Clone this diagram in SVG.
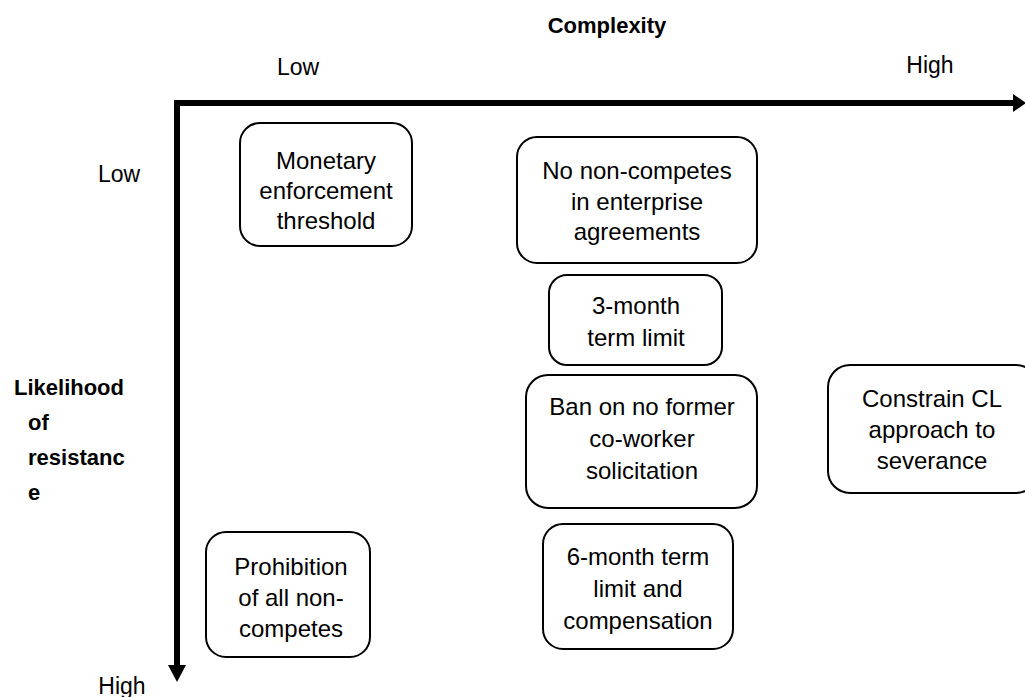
<svg xmlns="http://www.w3.org/2000/svg" width="1025" height="697" viewBox="0 0 1025 697">
<style>
.box{fill:#fff;stroke:#000;stroke-width:2}
.t{font-family:"Liberation Sans",Arial,sans-serif;font-size:24px;fill:#000;text-anchor:middle}
.lab{font-family:"Liberation Sans",Arial,sans-serif;font-size:23px;fill:#000}
.b{font-family:"Liberation Sans",Arial,sans-serif;font-size:22px;font-weight:bold;fill:#000}
.axis{stroke:#000;stroke-width:6;fill:none}
</style>
<rect width="1025" height="697" fill="#fff"/>
<g id="axes">
<line class="axis" x1="174" y1="103" x2="1014" y2="103"/>
<polygon points="1013,94 1026,103 1013,112" fill="#000"/>
<line class="axis" x1="177" y1="100" x2="177" y2="667"/>
<polygon points="168,665 186,665 177,682" fill="#000"/>
</g>
<g id="labels">
<text class="b" x="607" y="33" text-anchor="middle">Complexity</text>
<text class="lab" x="298" y="75" text-anchor="middle">Low</text>
<text class="lab" x="930" y="73" text-anchor="middle">High</text>
<text class="lab" x="98" y="182">Low</text>
<text class="b" x="14" y="395">Likelihood</text>
<text class="b" x="28" y="430">of</text>
<text class="b" x="28" y="465">resistanc</text>
<text class="b" x="28" y="500">e</text>
<text class="lab" x="122" y="694" text-anchor="middle">High</text>
</g>
<g id="n1">
<rect class="box" x="240" y="123" width="172" height="123" rx="20"/>
<text class="t" x="326" y="169">Monetary</text>
<text class="t" x="326" y="199">enforcement</text>
<text class="t" x="326" y="229">threshold</text>
</g>
<g id="n2">
<rect class="box" x="517" y="137" width="240" height="126" rx="20"/>
<text class="t" x="637" y="179">No non-competes</text>
<text class="t" x="637" y="210">in enterprise</text>
<text class="t" x="637" y="240">agreements</text>
</g>
<g id="n3">
<rect class="box" x="549" y="275" width="173" height="90" rx="18"/>
<text class="t" x="636" y="314">3-month</text>
<text class="t" x="636" y="346">term limit</text>
</g>
<g id="n4">
<rect class="box" x="526" y="375" width="231" height="133" rx="22"/>
<text class="t" x="642" y="415">Ban on no former</text>
<text class="t" x="642" y="447">co-worker</text>
<text class="t" x="642" y="479">solicitation</text>
</g>
<g id="n5">
<rect class="box" x="543" y="524" width="190" height="125" rx="20"/>
<text class="t" x="638" y="565">6-month term</text>
<text class="t" x="638" y="597">limit and</text>
<text class="t" x="638" y="629">compensation</text>
</g>
<g id="n6">
<rect class="box" x="828" y="365" width="210" height="128" rx="22"/>
<text class="t" x="932" y="407">Constrain CL</text>
<text class="t" x="932" y="438">approach to</text>
<text class="t" x="932" y="469">severance</text>
</g>
<g id="n7">
<rect class="box" x="206" y="532" width="164" height="125" rx="20"/>
<text class="t" x="291" y="575">Prohibition</text>
<text class="t" x="291" y="606">of all non-</text>
<text class="t" x="291" y="637">competes</text>
</g>
</svg>
